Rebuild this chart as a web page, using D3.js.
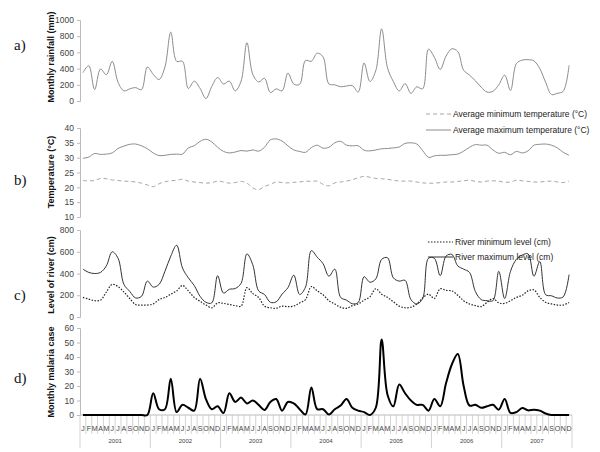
<!DOCTYPE html>
<html><head><meta charset="utf-8">
<script src="https://cdn.jsdelivr.net/npm/d3@7/dist/d3.min.js"></script>
<style>body{margin:0;background:#fff}svg{display:block}</style>
</head><body>
<svg id="c" width="600" height="452"></svg>
<script>
const years = ["2001","2002","2003","2004","2005","2006","2007"];
const monthLetters = ["J","F","M","A","M","J","J","A","S","O","N","D"];

const rainfall = [350,435,140,395,325,490,230,125,150,165,140,420,
  330,265,420,850,490,490,155,245,155,30,180,290,
  210,245,125,245,720,330,235,280,105,150,125,345,
  210,205,500,490,590,545,210,200,176,185,190,110,
  470,240,375,890,410,240,125,215,95,175,150,640,
  540,390,555,645,610,380,320,250,170,110,120,200,
  320,130,460,505,510,495,400,230,80,95,120,440];

const tempMin = [22.3,22.2,22.3,23.0,22.9,22.5,22.3,22.1,22.0,21.8,21.4,20.8,
  20.2,21.2,21.9,22.2,22.4,22.7,22.1,21.8,21.6,21.4,21.6,22.1,
  21.8,21.4,21.6,22.0,21.4,19.8,19.2,20.3,21.0,21.8,21.6,21.5,
  21.7,21.8,22.1,22.0,22.1,21.0,20.5,21.5,21.8,22.1,22.6,23.2,
  23.7,23.4,23.0,22.9,22.7,22.4,22.1,22.1,22.1,21.8,21.5,21.4,
  21.4,21.6,21.8,21.8,22.0,22.2,22.4,22.0,21.8,22.1,22.2,22.1,
  21.7,21.8,22.4,22.2,22.0,21.8,21.8,22.0,22.1,21.8,21.6,22.1];

const tempMax = [29.8,30.2,31.4,31.1,31.2,31.6,33.1,33.9,34.5,34.6,34.0,33.0,
  31.6,30.7,30.8,31.1,31.2,31.2,33.3,34.0,35.5,36.2,35.3,33.5,
  32.1,31.6,31.9,32.4,32.2,32.6,32.2,33.5,36.0,36.3,35.6,34.0,
  32.6,32.1,31.8,33.4,34.2,33.2,33.5,35.0,35.5,34.2,34.0,34.0,
  32.5,32.3,32.6,33.0,33.1,33.3,33.6,34.8,35.0,34.6,32.4,30.1,
  30.6,30.8,30.8,31.0,31.2,32.2,33.5,34.4,34.2,34.2,32.6,31.5,
  31.8,31.0,32.1,31.6,32.3,34.2,34.5,34.6,34.2,33.3,31.8,30.8];

const riverMin = [180,165,150,155,230,300,280,230,170,115,110,110,
  120,160,180,210,240,290,240,180,145,110,85,130,
  125,115,105,100,270,215,180,100,85,80,100,95,
  100,130,160,280,240,205,150,120,90,80,105,120,
  155,185,260,210,180,140,100,85,90,120,175,210,
  170,260,245,240,200,150,120,105,95,135,170,130,
  125,150,180,200,240,250,180,135,120,110,110,133];

const riverMax = [440,410,400,410,470,600,540,300,235,175,190,330,
  275,300,420,560,660,450,360,290,190,135,130,380,
  220,255,262,310,580,480,240,207,135,140,210,270,
  385,207,275,610,550,490,375,440,180,155,122,133,
  370,320,350,530,545,360,330,337,160,120,170,540,
  540,380,560,575,470,440,410,235,160,150,150,420,
  170,420,530,570,580,375,510,205,195,175,185,390];

const malaria = [0,0,0,0,0,0,0,0,0,0,0,0,
  15,4,4,25,2,7,5,3,25,11,4,6,
  1.4,15,9,12,8,10,7,3.5,9,11,3,9,
  8,4,0.3,19,4,4,0.3,4,6.5,11,5,3,
  2,0,5,52,14,6,21,15,10,7,7,3,
  11,6,22,35,42,20,6.5,7,5,6,7,3.7,
  11,1.4,2,4.8,3.2,3.7,3,1,0,0,0,0];

const svg = d3.select("#c");
const N = years.length * 12;
const x = d3.scaleLinear().domain([0, N]).range([80, 572]);
const xm = i => x(i + 0.5);
const curve = d3.curveCatmullRom.alpha(0.5);
const font = "Liberation Sans, Arial, sans-serif";

function yAxis(y, ticks, title, tcy) {
  const g = svg.append("g").attr("transform", `translate(${x(0)},0)`)
    .call(d3.axisLeft(y).tickValues(ticks).tickSize(3).tickPadding(3).tickFormat(d3.format("d")));
  g.select(".domain").attr("stroke", "#bbb");
  g.selectAll(".tick line").attr("stroke", "#bbb");
  g.selectAll(".tick text").attr("fill", "#444").attr("font-size", 8.5).attr("font-family", font);
  svg.append("text").attr("transform", `translate(54,${tcy}) rotate(-90)`)
    .attr("text-anchor", "middle").attr("font-family", font).attr("font-weight", "bold")
    .attr("font-size", 9).attr("fill", "#111").text(title);
}
function panelLabel(t, y) {
  svg.append("text").attr("x", 14).attr("y", y).attr("font-family", "Liberation Serif, Times New Roman, serif")
    .attr("font-size", 15).attr("fill", "#111").text(t);
}
function line(data, y, stroke, width, dash) {
  svg.append("path").datum(data).attr("fill", "none").attr("stroke", stroke)
    .attr("stroke-width", width).attr("stroke-dasharray", dash || null)
    .attr("stroke-linejoin", "round")
    .attr("d", d3.line().x((d, i) => xm(i)).y(d => y(d)).curve(curve));
}
function legend(items, x0, y0, dy) {
  items.forEach((it, k) => {
    const yy = y0 + k * dy;
    svg.append("line").attr("x1", x0).attr("x2", x0 + 25).attr("y1", yy).attr("y2", yy)
      .attr("stroke", it.stroke).attr("stroke-width", it.w).attr("stroke-dasharray", it.dash || null);
    svg.append("text").attr("x", x0 + 27).attr("y", yy + 3).attr("font-family", font)
      .attr("font-size", 8.5).attr("fill", "#222").text(it.label);
  });
}

// a) rainfall
const ya = d3.scaleLinear().domain([0, 1000]).range([101, 20]);
yAxis(ya, [0,200,400,600,800,1000], "Monthly rainfall (mm)", 57);
line(rainfall, ya, "#8c8c8c", 1);
panelLabel("a)", 50);

// b) temperature
const yb = d3.scaleLinear().domain([10, 40]).range([217, 128]);
yAxis(yb, [10,15,20,25,30,35,40], "Temperature (°C)", 172);
line(tempMin, yb, "#a8a8a8", 1, "4,3");
line(tempMax, yb, "#8c8c8c", 1);
legend([{label:"Average minimum temperature (°C)", stroke:"#a8a8a8", w:1, dash:"4,3"},
        {label:"Average maximum temperature (°C)", stroke:"#8c8c8c", w:1}], 426, 114, 16);
panelLabel("b)", 185);

// c) river
const yc = d3.scaleLinear().domain([0, 800]).range([317, 230]);
yAxis(yc, [0,200,400,600,800], "Level of river (cm)", 275);
line(riverMin, yc, "#222", 1.2, "1.5,1.5");
line(riverMax, yc, "#333", 1);
legend([{label:"River minimum level (cm)", stroke:"#222", w:1.2, dash:"1.5,1.5"},
        {label:"River maximum level (cm)", stroke:"#333", w:1}], 428, 242, 15);
panelLabel("c)", 300);

// d) malaria
const yd = d3.scaleLinear().domain([0, 60]).range([415, 328]);
yAxis(yd, [0,10,20,30,40,50,60], "Monthly malaria case", 372);
svg.append("line").attr("x1", x(0)).attr("x2", x(N)).attr("y1", yd(0)).attr("y2", yd(0)).attr("stroke", "#bbb");
const months = d3.range(N);
svg.selectAll(".mt").data(d3.range(N + 1)).enter().append("line")
  .attr("x1", d => x(d)).attr("x2", d => x(d)).attr("y1", yd(0)).attr("y2", d => d % 12 === 0 ? 448 : 434)
  .attr("stroke", "#c8c8c8").attr("stroke-width", 0.8);
svg.selectAll(".ml").data(months).enter().append("text")
  .attr("x", d => xm(d)).attr("y", 431).attr("text-anchor", "middle")
  .attr("font-family", font).attr("font-size", 7).attr("fill", "#444")
  .text(d => monthLetters[d % 12]);
svg.selectAll(".yl").data(years).enter().append("text")
  .attr("x", (d, k) => x(k * 12 + 6)).attr("y", 443).attr("text-anchor", "middle")
  .attr("font-family", font).attr("font-size", 6).attr("fill", "#444").text(d => d);
line(malaria, yd, "#000", 2);
panelLabel("d)", 383);
</script>
</body></html>
